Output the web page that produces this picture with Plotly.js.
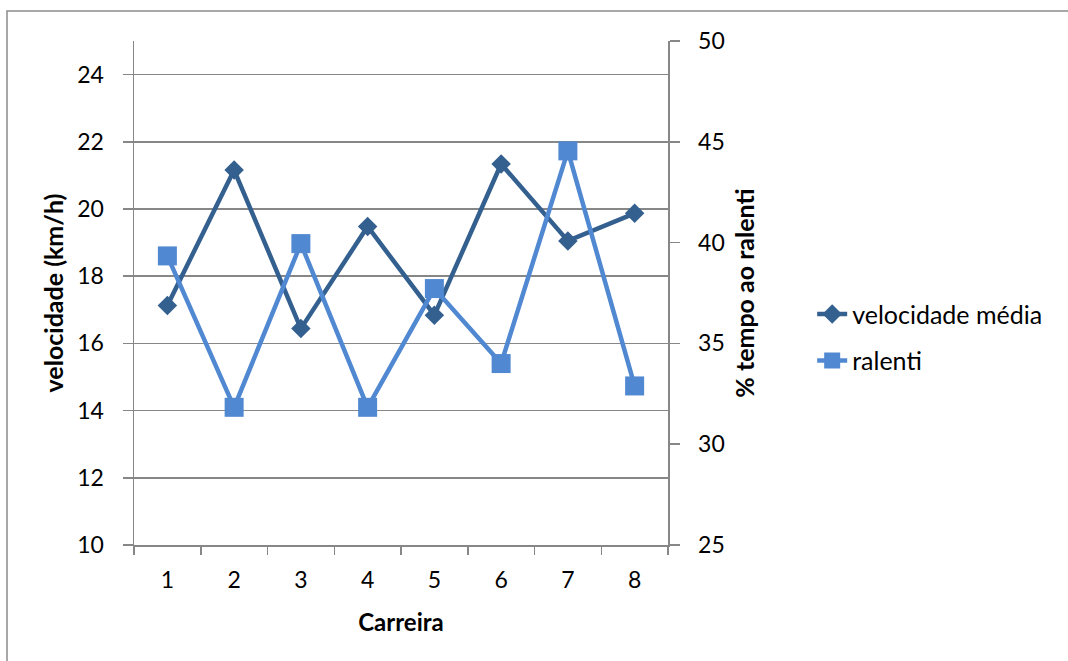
<!DOCTYPE html>
<html>
<head>
<meta charset="utf-8">
<script src="https://cdn.plot.ly/plotly-3.0.1.min.js"></script>
<style>
  html, body { margin: 0; padding: 0; background: #ffffff; }
  #chart { width: 1068px; height: 661px; }
</style>
</head>
<body>
<div id="chart"></div>
<script>
// Runs (Carreira) and the two measured series
const carreiras = ['1', '2', '3', '4', '5', '6', '7', '8'];
const velocidadeMedia = [17.13, 21.16, 16.44, 19.48, 16.84, 21.34, 19.05, 19.87];
const ralenti = [39.34, 31.83, 39.95, 31.83, 37.72, 34.0, 44.55, 32.89];

const FONT = 'Lato, "Open Sans", "Noto Sans", sans-serif';
const GRID = '#878787';
const DARK = '#34608f';
const LIGHT = '#5088d1';
const TICK_SIZE = 23;

const traces = [
  {
    x: carreiras, y: velocidadeMedia, name: 'velocidade média',
    type: 'scatter', mode: 'lines+markers', yaxis: 'y',
    legendgroup: 'a',
    line: { color: DARK, width: 4.5 },
    marker: { symbol: 'diamond', size: 15, color: DARK }
  },
  {
    x: carreiras, y: ralenti, name: 'ralenti',
    type: 'scatter', mode: 'lines+markers', yaxis: 'y2',
    legendgroup: 'b',
    line: { color: LIGHT, width: 4.5 },
    marker: { symbol: 'square', size: 19, color: LIGHT }
  }
];

const layout = {
  width: 1068, height: 661,
  margin: { l: 134, r: 400, t: 41, b: 116 },
  paper_bgcolor: '#ffffff', plot_bgcolor: '#ffffff',
  font: { family: FONT, size: TICK_SIZE, color: '#000000' },
  showlegend: true,
  legend: {
    x: 1.27, xanchor: 'left', y: 0.412, yanchor: 'middle',
    traceorder: 'grouped', tracegroupgap: 11,
    font: { family: FONT, size: 25, color: '#000000' },
    bgcolor: 'rgba(0,0,0,0)'
  },
  xaxis: {
    type: 'category', range: [-0.5, 7.5],
    tickson: 'boundaries', ticks: 'outside', ticklen: 8, tickwidth: 1.5, tickcolor: GRID,
    showline: true, linecolor: GRID, linewidth: 1.5,
    showgrid: false, zeroline: false,
    ticklabelstandoff: 14,
    tickfont: { family: FONT, size: TICK_SIZE },
    title: { text: '<b>Carreira</b>', font: { family: FONT, size: 24 }, standoff: 22 }
  },
  yaxis: {
    range: [10, 25], tick0: 10, dtick: 2,
    ticks: 'outside', ticklen: 10, tickwidth: 1.5, tickcolor: GRID,
    showline: true, linecolor: GRID, linewidth: 1.5,
    showgrid: true, gridcolor: GRID, gridwidth: 1.5, zeroline: false,
    ticklabelstandoff: 14,
    tickfont: { family: FONT, size: TICK_SIZE },
    title: { text: '<b>velocidade (km/h)</b>', font: { family: FONT, size: 25 }, standoff: 6 }
  },
  yaxis2: {
    overlaying: 'y', side: 'right',
    range: [25, 50], tick0: 25, dtick: 5,
    ticks: 'outside', ticklen: 10, tickwidth: 1.5, tickcolor: GRID,
    showline: true, linecolor: GRID, linewidth: 1.5,
    showgrid: false, zeroline: false,
    ticklabelstandoff: 14,
    tickfont: { family: FONT, size: TICK_SIZE },
    title: { text: '<b>% tempo ao ralenti</b>', font: { family: FONT, size: 25 }, standoff: 12 }
  },
  shapes: [
    // outer frame of the chart area
    {
      type: 'rect', xref: 'paper', yref: 'paper',
      x0: (7 - 134) / 534, x1: (1080 - 134) / 534,
      y0: (545 - 680) / 504, y1: (545 - 11) / 504,
      line: { color: '#8c8c8c', width: 1.5 }, fillcolor: 'rgba(0,0,0,0)', layer: 'below'
    }
  ]
};

Plotly.newPlot('chart', traces, layout, { displayModeBar: false, staticPlot: true });
</script>
</body>
</html>
